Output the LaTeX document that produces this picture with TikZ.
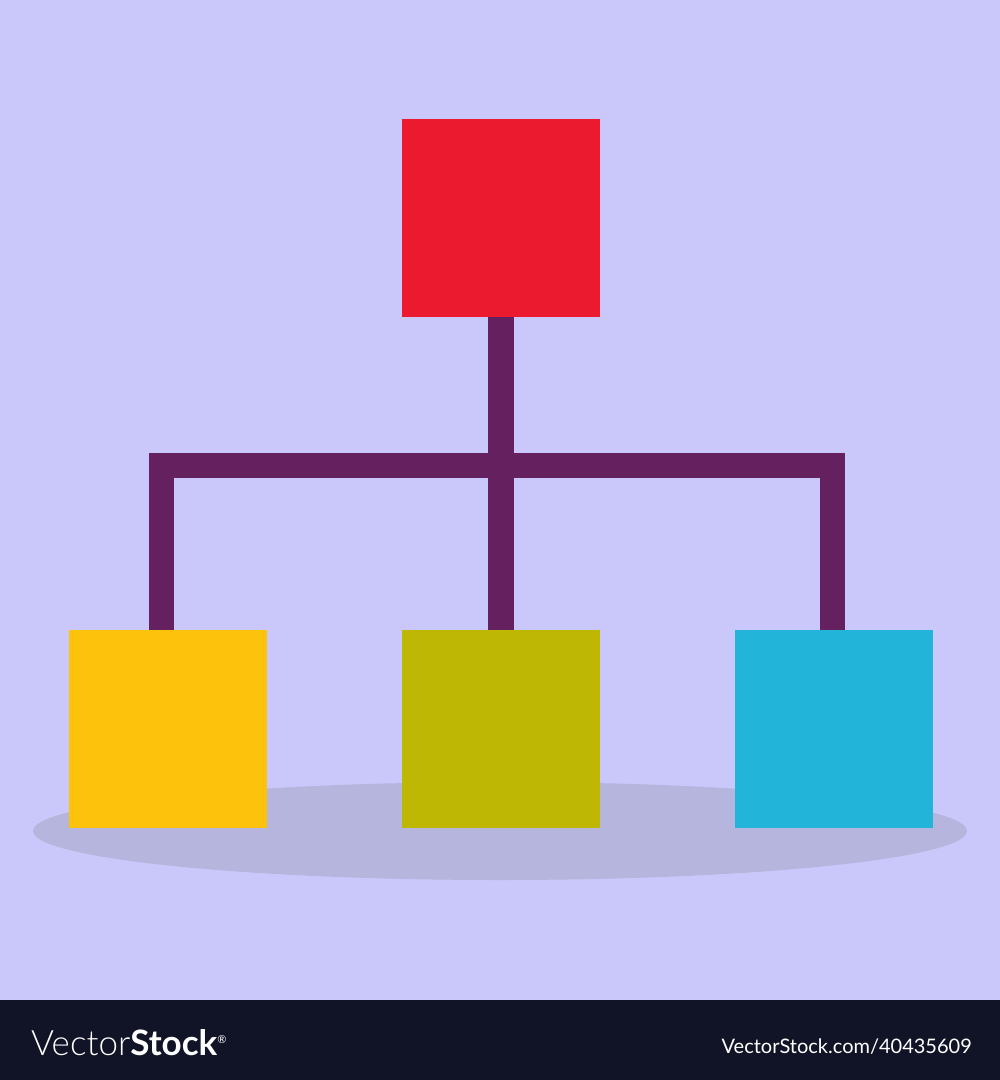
\documentclass[tikz,border=0pt]{standalone}
\usepackage{fontspec}
\setmainfont{Lato}
\usepackage{tikz}
\usetikzlibrary{positioning}

\definecolor{bgLav}{HTML}{CAC8FA}
\definecolor{barDark}{HTML}{111326}
\definecolor{shadowLav}{HTML}{B5B5DD}
\definecolor{linkPurple}{HTML}{65205F}
\definecolor{boxRed}{HTML}{EC1A2E}
\definecolor{boxYellow}{HTML}{FDC20B}
\definecolor{boxOlive}{HTML}{BEB805}
\definecolor{boxCyan}{HTML}{23B4DA}

\tikzset{
  orgbox/.style={draw=none, minimum width=198pt, minimum height=198pt, inner sep=0pt},
  link/.style={draw=linkPurple, line width=25.5pt, line join=miter},
}

\begin{document}
\begin{tikzpicture}[x=1pt,y=1pt,yscale=-1,xscale=1]
    \useasboundingbox (0,0) rectangle (1000,1080);

    %Shape: Background
    \fill[bgLav] (0,0) rectangle (1000,1000);
    %Shape: Bottom bar
    \fill[barDark] (0,1000) rectangle (1000,1080);

    %Shape: Shadow ellipse
    \fill[shadowLav] (500,831) ellipse [x radius=467, y radius=49];

    %Shape: Boxes
    \node[orgbox, fill=boxRed]    (top) at (501,218) {};
    \node[orgbox, fill=boxYellow] (lft) at (167.5,729) {};
    \node[orgbox, fill=boxOlive]  (mid) at (501,729) {};
    \node[orgbox, fill=boxCyan]   (rgt) at (834,729) {};

    % junction corners
    \coordinate (jl) at (161.5,465.5);
    \coordinate (jr) at (832.5,465.5);

    %Straight Lines
    \draw[link] (top.south) -- (mid.north);
    \draw[link] (jl |- lft.north) -- (jl) -- (jr) -- (jr |- rgt.north);

    % Text Node
    \node[anchor=base west, inner sep=0pt, text=white, font=\fontsize{35}{38}\selectfont] (logo) at (31,1055)
      {{\fontspec{Lato Light}Vector}\textbf{Stock}\raisebox{12pt}{\fontsize{11}{11}\selectfont\textregistered}};
    % Text Node
    \node[anchor=base east, inner sep=0pt, text=white, font=\fontsize{20}{24}\selectfont] (url) at (972,1053)
      {VectorStock.com/40435609};

\end{tikzpicture}
\end{document}
